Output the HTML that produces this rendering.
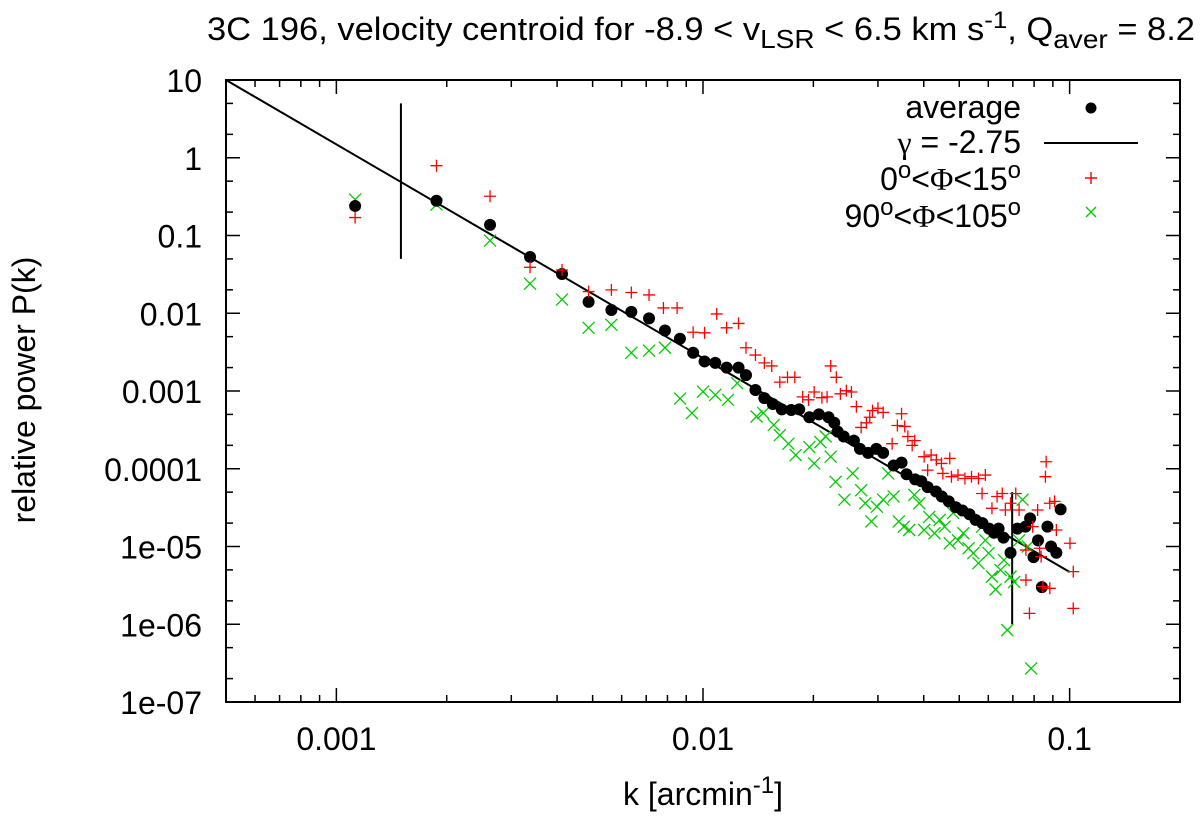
<!DOCTYPE html>
<html><head><meta charset="utf-8"><style>
html,body{margin:0;padding:0;background:#fff;}
svg{display:block;font-family:"Liberation Sans",sans-serif;}
</style></head><body>
<svg id="chart" width="1200" height="816" viewBox="0 0 1200 816" xmlns="http://www.w3.org/2000/svg">
<rect x="0" y="0" width="1200" height="816" fill="#fff"/>
<text x="207" y="40" font-size="32" textLength="988" lengthAdjust="spacingAndGlyphs">3C 196, velocity centroid for -8.9 &lt; v<tspan baseline-shift="-8" font-size="26">LSR</tspan> &lt; 6.5 km s<tspan baseline-shift="12" font-size="24">-1</tspan>, Q<tspan baseline-shift="-8" font-size="26">aver</tspan> = 8.2</text>
<g id="ticks"></g>
<g id="marks"></g>
<rect x="226" y="80" width="954" height="622" fill="none" stroke="#000" stroke-width="2"/>
<text x="703" y="805" font-size="32" text-anchor="middle">k [arcmin<tspan baseline-shift="12" font-size="24">-1</tspan>]</text>
<text transform="translate(35,390) rotate(-90)" font-size="32" text-anchor="middle">relative power P(k)</text>
<g>
<text x="1021" y="118" font-size="32" text-anchor="end">average</text>
<circle cx="1091" cy="108" r="5.5" fill="#000"/>
<text x="1021" y="153" font-size="32" text-anchor="end"><tspan font-family="Liberation Serif">γ</tspan> = -2.75</text>
<line x1="1044" y1="143" x2="1138" y2="143" stroke="#000" stroke-width="2"/>
<text x="1021" y="190" font-size="32" text-anchor="end">0<tspan baseline-shift="12" font-size="24">o</tspan>&lt;<tspan font-family="Liberation Serif">Φ</tspan>&lt;15<tspan baseline-shift="12" font-size="24">o</tspan></text>
<path d="M1085 178h12M1091 172v12" stroke="#f00" stroke-width="1.4"/>
<text x="1021" y="227" font-size="32" text-anchor="end">90<tspan baseline-shift="12" font-size="24">o</tspan>&lt;<tspan font-family="Liberation Serif">Φ</tspan>&lt;105<tspan baseline-shift="12" font-size="24">o</tspan></text>
<path d="M1086 207l10 10M1096 207l-10 10" stroke="#0c0" stroke-width="1.4"/>
</g>
</svg>
<script>
const xTicks = [0.001, 0.01, 0.1];
const xTickLabels = ["0.001", "0.01", "0.1"];
const yTicks = [10, 1, 0.1, 0.01, 0.001, 0.0001, 1e-5, 1e-6, 1e-7];
const yTickLabels = ["10", "1", "0.1", "0.01", "0.001", "0.0001", "1e-05", "1e-06", "1e-07"];
const fitGamma = -2.75;
const fitK = [0.0005, 0.1];
const fitAmp = 10;
const rangeMarkersK = [0.0015, 0.0697];
const rangeMarkersP = [[5, 0.05], [5e-5, 1e-6]];

const avgK = [0.001125,0.001875,0.002625,0.003375,0.004125,0.004875,0.005625,0.006375,0.007125,0.007875,0.00865,0.0094,0.0101,0.0108,0.0116,0.0125,0.0131,0.0139,0.0147,0.0155,0.0164,0.0174,0.0183,0.0195,0.0207,0.022,0.0228,0.0233,0.0242,0.0258,0.0268,0.0282,0.0297,0.031,0.0331,0.0348,0.0359,0.0379,0.0394,0.041,0.0432,0.0448,0.0468,0.0489,0.051,0.0533,0.0554,0.0578,0.0603,0.0622,0.064,0.066,0.069,0.072,0.0758,0.078,0.0797,0.082,0.084,0.087,0.089,0.092,0.0945];
const avgP = [0.24,0.28,0.137,0.053,0.032,0.014,0.011,0.0104,0.0086,0.006,0.0047,0.0031,0.0024,0.0023,0.002,0.002,0.0016,0.00103,0.00081,0.00068,0.00058,0.00057,0.00058,0.00046,0.0005,0.00046,0.00039,0.0003,0.00026,0.00023,0.00018,0.00016,0.00018,0.00016,0.00011,0.00012,8.5e-5,7.3e-5,6.9e-5,5.8e-5,5.1e-5,4.4e-5,3.8e-5,3.2e-5,2.9e-5,2.6e-5,2.2e-5,2.0e-5,1.7e-5,1.5e-5,1.7e-5,1.3e-5,8.3e-6,1.7e-5,1.8e-5,2.3e-5,7.3e-6,1.2e-5,3.0e-6,1.8e-5,1.0e-5,8.3e-6,3.0e-5];

const redK = [0.001125,0.001875,0.002625,0.003375,0.004125,0.004875,0.005625,0.006375,0.007125,0.0078,0.0085,0.0094,0.0101,0.0109,0.0116,0.0125,0.0131,0.0139,0.0147,0.0154,0.0162,0.017,0.0178,0.0187,0.0194,0.0201,0.0211,0.0218,0.0223,0.0231,0.0237,0.0246,0.0254,0.0262,0.027,0.0279,0.0285,0.029,0.030,0.031,0.0328,0.0339,0.0348,0.0355,0.0362,0.0372,0.0378,0.0401,0.0419,0.0433,0.0447,0.0471,0.041,0.0451,0.0476,0.0496,0.0518,0.054,0.0564,0.0589,0.0577,0.0614,0.0634,0.0655,0.0668,0.069,0.0713,0.0728,0.076,0.0793,0.0818,0.0863,0.0859,0.0883,0.091,0.092,0.1002,0.076,0.0777,0.0845,0.0883,0.1023,0.1023,0.0828,0.0836];
const redP = [0.17,0.79,0.32,0.039,0.036,0.019,0.02,0.0185,0.0172,0.0117,0.0117,0.0057,0.0056,0.0098,0.0065,0.0074,0.0036,0.0029,0.0023,0.0021,0.0013,0.0015,0.0015,0.00084,0.00077,0.00097,0.00082,0.00084,0.0021,0.0015,0.00092,0.00101,0.00097,0.00063,0.00034,0.00039,0.00046,0.00056,0.0006,0.00053,0.00021,0.00036,0.00051,0.00035,0.00026,0.0002,0.00023,1.43e-4,1.5e-4,1.3e-4,1.17e-4,1.36e-4,9.6e-5,8.7e-5,7.9e-5,8.3e-5,7.5e-5,7.9e-5,7.5e-5,8.3e-5,4.8e-5,3.1e-5,4.4e-5,4.8e-5,2.95e-5,3.6e-5,4.8e-5,2.95e-5,9.0e-6,1.8e-5,2.95e-5,1.23e-4,7.9e-5,3.6e-5,3.8e-5,1.63e-5,1.1e-5,3.7e-6,1.38e-6,3.05e-6,2.9e-6,4.75e-6,1.6e-6,9.5e-6,7.4e-6];

const greenK = [0.001125,0.001875,0.002625,0.003375,0.004125,0.004875,0.005625,0.006375,0.007125,0.007875,0.00866,0.00933,0.01,0.0108,0.0117,0.0124,0.014,0.0146,0.0156,0.0162,0.0171,0.0179,0.0195,0.0201,0.0209,0.0216,0.0223,0.023,0.0243,0.0256,0.027,0.0277,0.0288,0.0298,0.031,0.032,0.0331,0.0342,0.0353,0.0365,0.0377,0.0389,0.0401,0.0414,0.0428,0.0442,0.0456,0.0471,0.0481,0.0496,0.0513,0.053,0.0546,0.0564,0.0577,0.0589,0.0601,0.0614,0.0628,0.0648,0.0662,0.0676,0.069,0.0706,0.0728,0.0744,0.0769,0.0785];
const greenP = [0.29,0.25,0.086,0.024,0.015,0.0065,0.0071,0.0031,0.0033,0.0036,8.0e-4,5.2e-4,9.8e-4,8.9e-4,7.7e-4,1.26e-3,4.7e-4,5.2e-4,3.66e-4,2.7e-4,2.1e-4,1.5e-4,1.9e-4,1.17e-4,2.2e-4,2.6e-4,1.43e-4,6.8e-5,4.0e-5,8.7e-5,5.3e-5,3.6e-5,2.1e-5,3.25e-5,4.0e-5,8.7e-5,4.4e-5,2.1e-5,1.8e-5,1.63e-5,4.6e-5,3.6e-5,1.63e-5,2.4e-5,1.48e-5,2.2e-5,1.8e-5,1.1e-5,2.7e-5,1.2e-5,1.48e-5,9.5e-6,8.2e-6,6.1e-6,1.8e-5,1.2e-5,8.2e-6,4.1e-6,2.8e-6,5.0e-6,6.7e-6,8.4e-7,4.1e-6,3.5e-6,1.2e-5,4.0e-5,1.0e-5,2.7e-7];

const NS = "http://www.w3.org/2000/svg";
const X0 = 226, X1 = 1180, Y0 = 80, Y1 = 702;
const LX0 = Math.log10(0.0005), LX1 = Math.log10(0.2), LY0 = -7, LY1 = 1;
function xs(k){ return X0 + (Math.log10(k) - LX0) / (LX1 - LX0) * (X1 - X0); }
function ys(p){ return Y1 - (Math.log10(p) - LY0) / (LY1 - LY0) * (Y1 - Y0); }
function mk(tag, attrs, parent){ const e = document.createElementNS(NS, tag); for (const a in attrs) e.setAttribute(a, attrs[a]); parent.appendChild(e); return e; }

const tg = document.getElementById('ticks');
const mg = document.getElementById('marks');

for (let d = -4; d <= -1; d++) {
  for (let m = 1; m <= 9; m++) {
    const v = m * Math.pow(10, d);
    if (v < 0.0005 || v > 0.2) continue;
    const x = xs(v);
    const len = m === 1 ? 14 : 7;
    const t1 = mk('line', {x1:x, y1:Y1, x2:x, y2:Y1-len, stroke:'#000', 'stroke-width':1.5}, tg);
    
    
    const t2 = mk('line', {x1:x, y1:Y0, x2:x, y2:Y0+len, stroke:'#000', 'stroke-width':1.5}, tg);
    
    
  }
}
xTicks.forEach((v, i) => {
  const t = mk('text', {x:xs(v), y:750, 'font-size':32, 'text-anchor':'middle'}, tg);
  t.textContent = xTickLabels[i];
  
  
});
for (let d = -7; d <= 1; d++) {
  [1, 2, 5].forEach(m => {
    const v = m * Math.pow(10, d);
    if (v > 10.0001) return;
    const y = ys(v);
    const len = m === 1 ? 14 : 7;
    const a = mk('line', {x1:X0, y1:y, x2:X0+len, y2:y, stroke:'#000', 'stroke-width':1.5}, tg);
    
    
    const b = mk('line', {x1:X1, y1:y, x2:X1-len, y2:y, stroke:'#000', 'stroke-width':1.5}, tg);
    
    
  });
}
yTicks.forEach((v, i) => {
  const t = mk('text', {x:202, y:ys(v)+12, 'font-size':32, 'text-anchor':'end'}, tg);
  t.textContent = yTickLabels[i];
  
  
});

const fp = fitK.map(k => fitAmp * Math.pow(k / fitK[0], fitGamma));
const fl = mk('line', {x1:xs(fitK[0]), y1:ys(fp[0]), x2:xs(fitK[1]), y2:ys(fp[1]), stroke:'#000', 'stroke-width':2}, mg);



rangeMarkersK.forEach((k, i) => {
  const l = mk('line', {x1:xs(k), y1:ys(rangeMarkersP[i][0]), x2:xs(k), y2:ys(rangeMarkersP[i][1]), stroke:'#000', 'stroke-width':2}, mg);
  
  
});

greenK.forEach((k, i) => {
  const x = xs(k), y = ys(greenP[i]);
  const p = mk('path', {d:`M${x-6} ${y-6}l12 12M${x+6} ${y-6}l-12 12`, stroke:'#0c0', 'stroke-width':1.3, fill:'none'}, mg);
  
  
});
avgK.forEach((k, i) => {
  const c = mk('circle', {cx:xs(k), cy:ys(avgP[i]), r:6, fill:'#000'}, mg);
  
  
});
redK.forEach((k, i) => {
  const x = xs(k), y = ys(redP[i]);
  const p = mk('path', {d:`M${x-6} ${y}h12M${x} ${y-6}v12`, stroke:'#f00', 'stroke-width':1.3, fill:'none'}, mg);
  
  
});
</script>
</body></html>
